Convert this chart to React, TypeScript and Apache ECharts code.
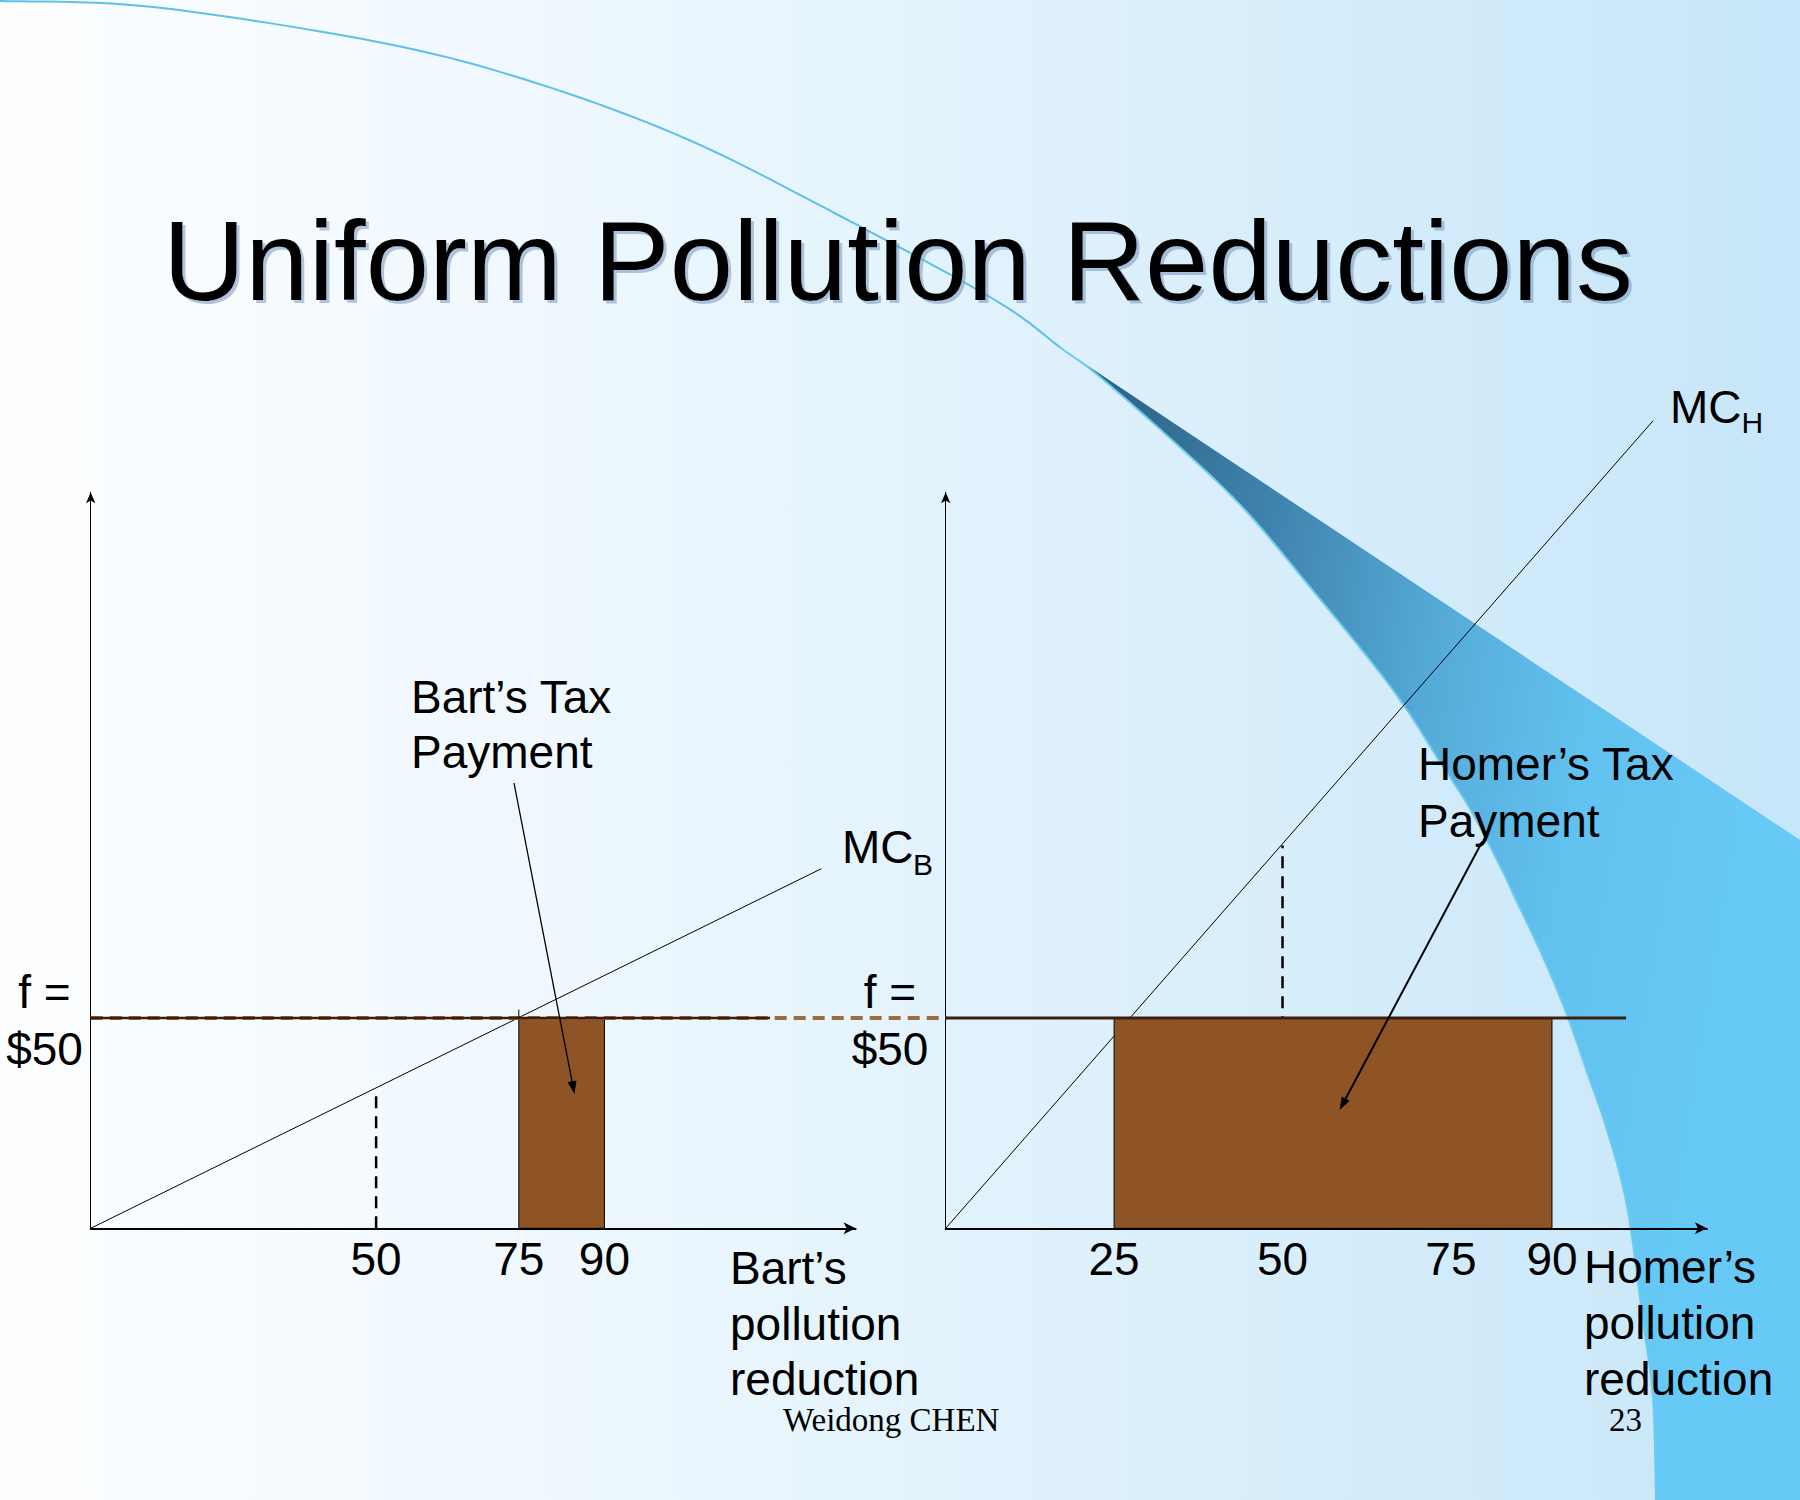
import React, { useEffect, useRef } from "react";
import * as echarts from "echarts";

const FONT = "'Liberation Sans', Arial, Helvetica, sans-serif";
const SERIF = "'Liberation Serif', 'Times New Roman', serif";

// ---- Bart (left panel) ----
const bartTicks = [50, 75, 90];
const bartMC = [[0, 0], [128, 85.5]];
const bartTaxBar = [[75, 90, 50]]; // [from, to, fee]
const bartFeeLine = [[0, 50], [119, 50]];
const feeConnector = [[0, 50], [150, 50]];
const bartGuide = [[50, 0], [50, 32]];
const bartStub = [[75, 50], [75, 52]];

// ---- Homer (right panel) ----
const homerTicks = [25, 50, 75, 90];
const homerMC = [[0, 0], [105, 192]];
const homerTaxBar = [[25, 90, 50]];
const homerFeeLine = [[0, 50], [101, 50]];
const homerGuide = [[50, 0], [50, 91]];

const xMaxBart = 134;
const xMaxHomer = 113;
const xMaxConnector = 150;
const yMax = 175;

// decorative swoosh geometry (background artwork)
const outlinePts = [[0, 1], [153, 7], [383, 43], [536, 83], [689, 140], [842, 217], [995, 300], [1061, 348], [1100, 377], [1183, 450], [1246, 511], [1310, 587], [1373, 664], [1407, 710], [1438, 759], [1470, 809], [1500, 866], [1516, 900], [1543, 957], [1567, 1015], [1587, 1072], [1607, 1130], [1627, 1206], [1643, 1321], [1653, 1398], [1656, 1500]];
const tipIndex = 7;

function catmull(pts: number[][], seg = 10) {
  const out: number[][] = [];
  for (let i = 0; i < pts.length - 1; i++) {
    const p0 = pts[Math.max(i - 1, 0)], p1 = pts[i], p2 = pts[i + 1], p3 = pts[Math.min(i + 2, pts.length - 1)];
    for (let t = 0; t < seg; t++) {
      const s = t / seg, s2 = s * s, s3 = s2 * s;
      const f = (k: number) => 0.5 * (2 * p1[k] + (-p0[k] + p2[k]) * s + (2 * p0[k] - 5 * p1[k] + 4 * p2[k] - p3[k]) * s2 + (-p0[k] + 3 * p1[k] - 3 * p2[k] + p3[k]) * s3);
      out.push([f(0), f(1)]);
    }
  }
  out.push(pts[pts.length - 1]);
  return out;
}

function txt(text: string, x: number, base: number, size: number, align = "left", family = FONT, extra: any = {}) {
  const k = family === SERIF ? 0.3375 : 0.3465;
  return {
    type: "text",
    z: 100,
    style: {
      text, x, y: base - k * size,
      fontSize: size, fontFamily: family, fill: "#000",
      align, textAlign: align, verticalAlign: "middle", textVerticalAlign: "middle",
      lineHeight: Math.round(size * 0.9),
      ...extra,
    },
  };
}

function arrow(x1: number, y1: number, x2: number, y2: number, w: number) {
  const a = Math.atan2(y2 - y1, x2 - x1);
  const L = 13, H = 4.5;
  const bx = x2 - L * Math.cos(a), by = y2 - L * Math.sin(a);
  const nx = -Math.sin(a), ny = Math.cos(a);
  return [
    { type: "line", z: 90, shape: { x1, y1, x2: bx, y2: by }, style: { stroke: "#000", lineWidth: w } },
    { type: "polygon", z: 90, shape: { points: [[x2, y2], [bx + nx * H, by + ny * H], [bx - nx * H, by - ny * H]] }, style: { fill: "#000" } },
  ];
}

const barRender = (fill: string) => (params: any, api: any) => {
  const p0 = api.coord([api.value(0), api.value(2)]);
  const p1 = api.coord([api.value(1), 0]);
  return {
    type: "rect",
    shape: { x: p0[0], y: p0[1], width: p1[0] - p0[0], height: p1[1] - p0[1] },
    style: { fill, stroke: "#000", lineWidth: 1 },
  };
};

export default function App() {
  const ref = useRef<HTMLDivElement>(null);
  useEffect(() => {
    if (!ref.current) return;
    const chart = echarts.init(ref.current, null, { renderer: "svg" });

    const SEG = 10;
    const outline = catmull(outlinePts, SEG);
    const arc = outline.slice(0, tipIndex * SEG + 1);
    const curve = outline.slice(tipIndex * SEG);
    const region = [...curve, [1800, 1500], [1800, 840]];

    const xAxisBase = (gridIndex: number, max: number, ticks: number[]) => ({
      gridIndex, type: "value", min: 0, max,
      axisLine: { show: true, onZero: false, symbol: ["none", "arrow"], symbolSize: [9, 12], lineStyle: { color: "#000", width: 2 } },
      axisTick: { show: false },
      splitLine: { show: false },
      axisLabel: { show: true, customValues: ticks, margin: 8, fontSize: 46, color: "#000", fontFamily: FONT, hideOverlap: false },
    });
    const yAxisBase = (gridIndex: number) => ({
      gridIndex, type: "value", min: 0, max: yMax,
      axisLine: { show: true, onZero: false, symbol: ["none", "arrow"], symbolSize: [7, 11], lineStyle: { color: "#000", width: 1 } },
      axisTick: { show: false }, axisLabel: { show: false }, splitLine: { show: false },
    });
    const hiddenAxis = (gridIndex: number, max: number) => ({
      gridIndex, type: "value", min: 0, max, show: false,
      axisLine: { show: false }, axisTick: { show: false }, axisLabel: { show: false }, splitLine: { show: false },
    });

    const lineS = (data: number[][], xi: number, color: string, width: number, type: any, z: number, clip = true) => ({
      type: "line", xAxisIndex: xi, yAxisIndex: xi, data, z, clip,
      symbol: "none", silent: true,
      lineStyle: { color, width, type },
    });

    chart.setOption({
      animation: false,
      grid: [
        { left: 90.7, top: 492.3, width: 764.9, height: 736 },
        { left: 945.7, top: 492.3, width: 761.2, height: 736 },
        { left: 90.7, top: 492.3, width: 856.2, height: 736 },
      ],
      xAxis: [xAxisBase(0, xMaxBart, bartTicks), xAxisBase(1, xMaxHomer, homerTicks), hiddenAxis(2, xMaxConnector)],
      yAxis: [yAxisBase(0), yAxisBase(1), hiddenAxis(2, yMax)],
      series: [
        lineS(bartGuide, 0, "#000", 2.5, [12, 8], 2),
        lineS(bartMC, 0, "#000", 1, "solid", 3),
        {
          type: "custom", xAxisIndex: 0, yAxisIndex: 0, z: 4, silent: true,
          renderItem: barRender("#8f5426"), encode: { x: [0, 1], y: 2 }, data: bartTaxBar,
        },
        lineS(feeConnector, 2, "#9c6b3f", 4, [12, 7], 5, false),
        lineS(bartFeeLine, 0, "#3d1e0e", 2.5, "solid", 6),
        lineS(bartStub, 0, "#000", 1, "solid", 6),

        lineS(homerGuide, 1, "#000", 2.5, [12, 8], 2),
        lineS(homerMC, 1, "#000", 1, "solid", 3, false),
        {
          type: "custom", xAxisIndex: 1, yAxisIndex: 1, z: 4, silent: true,
          renderItem: barRender("#8f5426"), encode: { x: [0, 1], y: 2 }, data: homerTaxBar,
        },
        lineS(homerFeeLine, 1, "#3d1e0e", 3, "solid", 6),
      ],
      graphic: [
        {
          type: "polygon", z: -10, silent: true,
          shape: { points: region },
          style: {
            fill: {
              type: "linear", x: 0, y: 0, x2: 1, y2: 0.25,
              colorStops: [
                { offset: 0, color: "#29597a" },
                { offset: 0.3, color: "#3f83ad" },
                { offset: 0.55, color: "#56acd9" },
                { offset: 0.75, color: "#62c2ef" },
                { offset: 1, color: "#67c9f6" },
              ],
            },
          },
        },
        { type: "polyline", z: -9, silent: true, shape: { points: arc }, style: { stroke: "#5ec0e6", lineWidth: 2, fill: null } },
        { type: "polyline", z: -9, silent: true, shape: { points: curve }, style: { stroke: "#6ccbf2", lineWidth: 2, fill: null } },

        txt("Uniform Pollution Reductions", 898, 300, 114, "center", FONT, {
          shadowColor: "rgba(120,150,190,0.55)", shadowOffsetX: 3, shadowOffsetY: 3, shadowBlur: 1,
          textShadowColor: "rgba(120,150,190,0.55)", textShadowOffsetX: 3, textShadowOffsetY: 3, textShadowBlur: 1,
        }),

        txt("Bart\u2019s Tax", 411, 713, 46),
        txt("Payment", 411, 768, 46),
        ...arrow(514, 783, 574.5, 1094, 1.3),
        txt("MC", 842, 863, 46),
        txt("B", 913, 875, 30),
        txt("f =", 44.5, 1008, 46, "center"),
        txt("$50", 44.5, 1065, 46, "center"),
        txt("Bart\u2019s", 730, 1284, 46),
        txt("pollution", 730, 1340, 46),
        txt("reduction", 730, 1395, 46),

        txt("MC", 1670, 423, 46),
        txt("H", 1741.5, 433, 30),
        txt("Homer\u2019s Tax", 1418, 780, 46),
        txt("Payment", 1418, 837, 46),
        ...arrow(1482, 842, 1339.6, 1110, 2),
        txt("f =", 890, 1008, 46, "center"),
        txt("$50", 890, 1065, 46, "center"),
        txt("Homer\u2019s", 1584, 1283, 46),
        txt("pollution", 1584, 1339, 46),
        txt("reduction", 1584, 1395, 46),

        txt("Weidong CHEN", 783, 1431, 33, "left", SERIF),
        txt("23", 1609, 1431, 33, "left", SERIF),
      ],
    });
    return () => chart.dispose();
  }, []);

  return (
    <div
      ref={ref}
      style={{
        position: "absolute", left: 0, top: 0, width: 1800, height: 1500,
        background: "linear-gradient(to right, #fdfeff 0%, #eff8fe 30%, #e1f2fc 55%, #c6e6f9 100%)",
      }}
    />
  );
}
